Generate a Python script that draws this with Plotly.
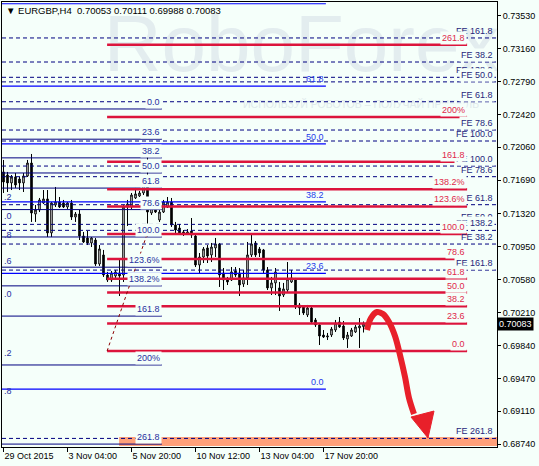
import plotly.graph_objects as go

# ---------------- data (EURGBP, H4) ----------------
bars = list(range(91))
opens = [0.71783, 0.71749, 0.71660, 0.71727, 0.71704, 0.71660, 0.71738, 0.71883, 0.71313, 0.71358,
         0.71436, 0.71481, 0.71101, 0.71414, 0.71447, 0.71436, 0.71391, 0.71436, 0.71279, 0.71313,
         0.71067, 0.71045, 0.70989, 0.71022, 0.70754, 0.70855, 0.70631, 0.70575, 0.70620, 0.70653,
         0.70631, 0.71391, 0.71391, 0.71492, 0.71514, 0.71548, 0.71682, 0.71324, 0.71391, 0.71246,
         0.71335, 0.71391, 0.71447, 0.71190, 0.71156, 0.71112, 0.71089, 0.71123, 0.71067, 0.70743,
         0.70832, 0.70933, 0.70855, 0.70933, 0.70978, 0.70653, 0.70575, 0.70575, 0.70676, 0.70653,
         0.70530, 0.70598, 0.70855, 0.70989, 0.70922, 0.70911, 0.70687, 0.70486, 0.70542, 0.70486,
         0.70407, 0.70463, 0.70553, 0.70575, 0.70296, 0.70273, 0.70184, 0.70262, 0.70128, 0.70072,
         0.69960, 0.69938, 0.69960, 0.70016, 0.70106, 0.70061, 0.69916, 0.69949, 0.69994, 0.70039,
         0.70053]
highs = [0.71917, 0.71783, 0.71749, 0.71771, 0.71727, 0.71771, 0.71917, 0.71984, 0.71414, 0.71492,
         0.71581, 0.71581, 0.71447, 0.71615, 0.71503, 0.71470, 0.71447, 0.71470, 0.71335, 0.71358,
         0.71112, 0.71123, 0.71056, 0.71045, 0.70966, 0.70911, 0.70665, 0.70676, 0.70687, 0.70821,
         0.71414, 0.71470, 0.71548, 0.71604, 0.71570, 0.71716, 0.71950, 0.71470, 0.71436, 0.71358,
         0.71470, 0.71503, 0.71492, 0.71224, 0.71201, 0.71134, 0.71145, 0.71268, 0.71078, 0.70877,
         0.70944, 0.70966, 0.70989, 0.71045, 0.70989, 0.70709, 0.70609, 0.70720, 0.70720, 0.70709,
         0.70687, 0.71000, 0.71078, 0.71011, 0.70944, 0.70922, 0.70720, 0.70609, 0.70709, 0.70553,
         0.70542, 0.70776, 0.70687, 0.70598, 0.70318, 0.70284, 0.70296, 0.70273, 0.70150, 0.70094,
         0.70016, 0.69983, 0.70050, 0.70128, 0.70161, 0.70117, 0.69994, 0.70039, 0.70072, 0.70150,
         0.70111]
lows = [0.71548, 0.71559, 0.71581, 0.71604, 0.71581, 0.71559, 0.71727, 0.71224, 0.71224, 0.71335,
        0.71425, 0.71056, 0.71056, 0.71391, 0.71380, 0.71380, 0.71369, 0.71246, 0.71224, 0.71022,
        0.70989, 0.70966, 0.70944, 0.70732, 0.70732, 0.70609, 0.70553, 0.70553, 0.70598, 0.70396,
        0.70553, 0.71179, 0.71369, 0.71481, 0.71503, 0.71525, 0.71056, 0.71302, 0.71324, 0.71224,
        0.71324, 0.71380, 0.71168, 0.71078, 0.71078, 0.71067, 0.71078, 0.71045, 0.70720, 0.70653,
        0.70765, 0.70765, 0.70776, 0.70832, 0.70497, 0.70463, 0.70519, 0.70564, 0.70609, 0.70396,
        0.70497, 0.70519, 0.70832, 0.70832, 0.70832, 0.70653, 0.70463, 0.70407, 0.70407, 0.70229,
        0.70385, 0.70441, 0.70542, 0.70251, 0.70184, 0.70184, 0.70161, 0.70094, 0.70050, 0.69848,
        0.69927, 0.69904, 0.69938, 0.69994, 0.70039, 0.69904, 0.69815, 0.69938, 0.69983, 0.69815,
        0.69988]
closes = [0.71671, 0.71660, 0.71727, 0.71637, 0.71660, 0.71738, 0.71883, 0.71324, 0.71358, 0.71470,
          0.71481, 0.71101, 0.71436, 0.71447, 0.71391, 0.71391, 0.71436, 0.71279, 0.71313, 0.71067,
          0.71000, 0.70989, 0.71045, 0.70754, 0.70922, 0.70631, 0.70575, 0.70653, 0.70665, 0.70620,
          0.71391, 0.71425, 0.71525, 0.71537, 0.71548, 0.71671, 0.71335, 0.71391, 0.71335, 0.71335,
          0.71447, 0.71447, 0.71190, 0.71134, 0.71101, 0.71089, 0.71112, 0.71078, 0.70743, 0.70832,
          0.70922, 0.70843, 0.70944, 0.70978, 0.70631, 0.70575, 0.70553, 0.70665, 0.70631, 0.70519,
          0.70598, 0.70855, 0.70978, 0.70855, 0.70877, 0.70687, 0.70486, 0.70542, 0.70665, 0.70396,
          0.70475, 0.70586, 0.70598, 0.70273, 0.70262, 0.70206, 0.70262, 0.70106, 0.70072, 0.69949,
          0.69938, 0.69949, 0.70027, 0.70094, 0.70050, 0.69927, 0.69960, 0.70016, 0.70050, 0.70061,
          0.70083]

x_tick_bars = [0, 16, 32, 48, 64, 80]
x_tick_text = ["29 Oct 2015", "3 Nov 04:00", "5 Nov 20:00", "10 Nov 12:00", "13 Nov 04:00", "17 Nov 20:00"]
y_tick_vals = [0.73530, 0.73160, 0.72790, 0.72420, 0.72060, 0.71690, 0.71320,
               0.70950, 0.70580, 0.70210, 0.69840, 0.69470, 0.69110, 0.68740]

# Fibonacci tools: price at 0% and at 100%
fib_levels = [0, 23.6, 38.2, 50, 61.8, 78.6, 100, 123.6, 138.2, 161.8, 200, 261.8]
fib_labels = ["0.0", "23.6", "38.2", "50.0", "61.8", "78.6", "100.0", "123.6%", "138.2%", "161.8", "200%", "261.8"]
navy_fib = (0.72487, 0.71056)
red_fib = (0.69781, 0.71089)
blue_levels = [0, 23.6, 38.2, 50, 61.8, 78.6]
blue_labels = ["0.0", "23.6", "38.2", "50.0", "61.8", ""]
blue_fib = (0.69356, 0.74836)
fe1_levels = [38.2, 50, 61.8, 78.6, 100, 138.2, 161.8, 261.8]
fe1_fib = (0.73731, 0.71849)
fe2_levels = [38.2, 50, 61.8, 78.6, 100, 138.2, 161.8]
fe2_fib = (0.70265, 0.72129)
edge_labels = [".2", ".0", ".8", ".6", ".0", ".2", ".8"]
edge_label_prices = [0.71503, 0.71291, 0.71078, 0.70788, 0.70419, 0.69759, 0.69334]

# forecast arrow
arrow_x = [90.875, 91.875, 93.375, 94.875, 96.375, 97.875, 99.125, 100.375, 101.375, 102.625]
arrow_y = [0.70016, 0.70150, 0.70217, 0.70195, 0.70106, 0.69949, 0.69737, 0.69491, 0.69256, 0.69077]
head_x = [101.875, 107.625, 106.125]
head_y = [0.69043, 0.69110, 0.68809]
target_zone = (28.9, 0.68719, 0.68820)

# ---------------- style ----------------
BG = "#F5FFFA"
FONT = "Liberation Sans"
NAVY = "#000080"
BLUE = "#0000FF"
RED = "#DC143C"
XMIN, XMAX = -0.375, 123.375
YMIN, YMAX = 0.68708, 0.73683
NAVY_END = 39.6
BLUE_END = 80.6
RED_START, RED_END = 25.9, 115.9
FE_LABEL_X = 122.9


def lvl_price(fib, lvl):
    return fib[0] + (fib[1] - fib[0]) * lvl / 100.0


def seg_xy(prices, x0, x1):
    xs, ys = [], []
    for p in prices:
        xs += [x0, x1, None]
        ys += [p, p, None]
    return xs, ys


fig = go.Figure()

# watermark
fig.add_trace(go.Scatter(x=[74.5], y=[0.73135], mode="text", text=["RoboForex"],
                         textfont=dict(family=FONT, size=80, color="#E3EDEF"),
                         cliponaxis=False, hoverinfo="skip", showlegend=False))
fig.add_trace(go.Scatter(x=[89.4], y=[0.72532], mode="text",
                         text=["ИСПОЛЬЗУЙ РОБОТОВ – ПОЛУЧАЙ ПРИБЫЛЬ"],
                         textfont=dict(family=FONT, size=10.5, color="#E0EAEC"),
                         hoverinfo="skip", showlegend=False))

# FE dashed levels
fe_prices = [lvl_price(fe1_fib, l) for l in fe1_levels] + [lvl_price(fe2_fib, l) for l in fe2_levels]
xs, ys = seg_xy(fe_prices, XMIN, XMAX)
fig.add_trace(go.Scatter(x=xs, y=ys, mode="lines", line=dict(color=NAVY, width=1, dash="4px,3px"),
                         hoverinfo="skip", showlegend=False))

# navy fib
navy_prices = [lvl_price(navy_fib, l) for l in fib_levels]
xs, ys = seg_xy(navy_prices, XMIN, NAVY_END)
fig.add_trace(go.Scatter(x=xs, y=ys, mode="lines", line=dict(color=NAVY, width=1),
                         hoverinfo="skip", showlegend=False))

# blue fib
blue_prices = [lvl_price(blue_fib, l) for l in blue_levels]
xs, ys = seg_xy(blue_prices, XMIN, BLUE_END)
fig.add_trace(go.Scatter(x=xs, y=ys, mode="lines", line=dict(color=BLUE, width=1.2),
                         hoverinfo="skip", showlegend=False))

# red fib
red_prices = [lvl_price(red_fib, l) for l in fib_levels]
xs, ys = seg_xy(red_prices, RED_START, RED_END)
fig.add_trace(go.Scatter(x=xs, y=ys, mode="lines", line=dict(color=RED, width=2.5),
                         hoverinfo="skip", showlegend=False))

# red fib trend line (dotted)
fig.add_trace(go.Scatter(x=[RED_START, RED_START + 10], y=[red_fib[0], red_fib[1]], mode="lines",
                         line=dict(color="#8B0000", width=1, dash="dot"),
                         hoverinfo="skip", showlegend=False))

# candles
fig.add_trace(go.Candlestick(
    x=bars, open=opens, high=highs, low=lows, close=closes,
    increasing=dict(line=dict(color="black", width=1), fillcolor="white"),
    decreasing=dict(line=dict(color="black", width=1), fillcolor="black"),
    whiskerwidth=0, hoverinfo="skip", showlegend=False))

# forecast arrow
fig.add_trace(go.Scatter(x=arrow_x, y=arrow_y, mode="lines",
                         line=dict(color="#E8202A", width=6, shape="spline"),
                         hoverinfo="skip", showlegend=False))
fig.add_trace(go.Scatter(x=head_x + [head_x[0]], y=head_y + [head_y[0]], mode="lines",
                         fill="toself", fillcolor="#E8202A", line=dict(color="#E8202A", width=1),
                         hoverinfo="skip", showlegend=False))

# target zone
fig.add_shape(type="rect", xref="x", yref="y", x0=target_zone[0], x1=XMAX,
              y0=target_zone[1], y1=target_zone[2], fillcolor="#FFA07A",
              line=dict(width=0), layer="below")

ann = []


def lab(x, y, text, color, bg=None):
    d = dict(x=x, y=y, xref="x", yref="y", text=text, showarrow=False,
             xanchor="right", yanchor="bottom", font=dict(family=FONT, size=9, color=color))
    if bg:
        d["bgcolor"] = bg
    ann.append(d)


for l, p in zip(fe2_levels, [lvl_price(fe2_fib, l) for l in fe2_levels]):
    lab(FE_LABEL_X, p, "FE %.1f" % l, "#26267A")
for l, p in zip(fe1_levels, [lvl_price(fe1_fib, l) for l in fe1_levels]):
    lab(FE_LABEL_X, p, "FE %.1f" % l, "#26267A", BG)
for t, p in zip(blue_labels, blue_prices):
    if t:
        lab(BLUE_END, p, t, "#1F3BEA")
for t, p in zip(fib_labels, navy_prices):
    lab(NAVY_END, p, t, "#28309E", BG)
for t, p in zip(fib_labels, red_prices):
    lab(RED_END, p, t, "#E0284A", BG)

for t, p in zip(edge_labels, edge_label_prices):
    ann.append(dict(x=0.0, y=p, xref="paper", yref="y", text=t, showarrow=False,
                    xanchor="left", yanchor="middle",
                    font=dict(family=FONT, size=9, color="#28309E")))

# header
ann.append(dict(x=0.004, y=0.982, xref="paper", yref="paper", showarrow=False,
                xanchor="left", yanchor="middle",
                text="▼ EURGBP,H4  %.5f %.5f %.5f %.5f" % (opens[-1], highs[-1], lows[-1], closes[-1]),
                font=dict(family=FONT, size=9.5, color="black")))
# current price box
ann.append(dict(x=1.0, y=closes[-1], xref="paper", yref="y", showarrow=False,
                xanchor="left", yanchor="middle", text="%.5f" % closes[-1],
                bgcolor="black", borderpad=1, font=dict(family=FONT, size=9, color="white")))

fig.update_layout(
    width=539, height=466,
    margin=dict(l=2, r=42, t=2, b=19),
    paper_bgcolor=BG, plot_bgcolor=BG,
    showlegend=False, hovermode=False,
    boxgap=0.45,
    annotations=ann,
    xaxis=dict(range=[XMIN, XMAX], showgrid=False, zeroline=False,
               tickvals=x_tick_bars, ticktext=x_tick_text,
               ticks="outside", ticklen=4, tickcolor="black",
               ticklabelposition="outside right",
               showline=True, linecolor="black", linewidth=1, mirror=True,
               tickfont=dict(family=FONT, size=9, color="black"),
               rangeslider=dict(visible=False)),
    yaxis=dict(range=[YMIN, YMAX], side="right", showgrid=False, zeroline=False,
               tickvals=y_tick_vals, ticktext=["%.5f" % v for v in y_tick_vals],
               ticks="outside", ticklen=3, tickcolor="black",
               showline=True, linecolor="black", linewidth=1, mirror=True,
               tickfont=dict(family=FONT, size=9, color="black")),
)

fig.write_html("out.html", config={"displayModeBar": False},
               post_script="document.body.style.margin='0';document.body.style.background='%s';" % BG)
